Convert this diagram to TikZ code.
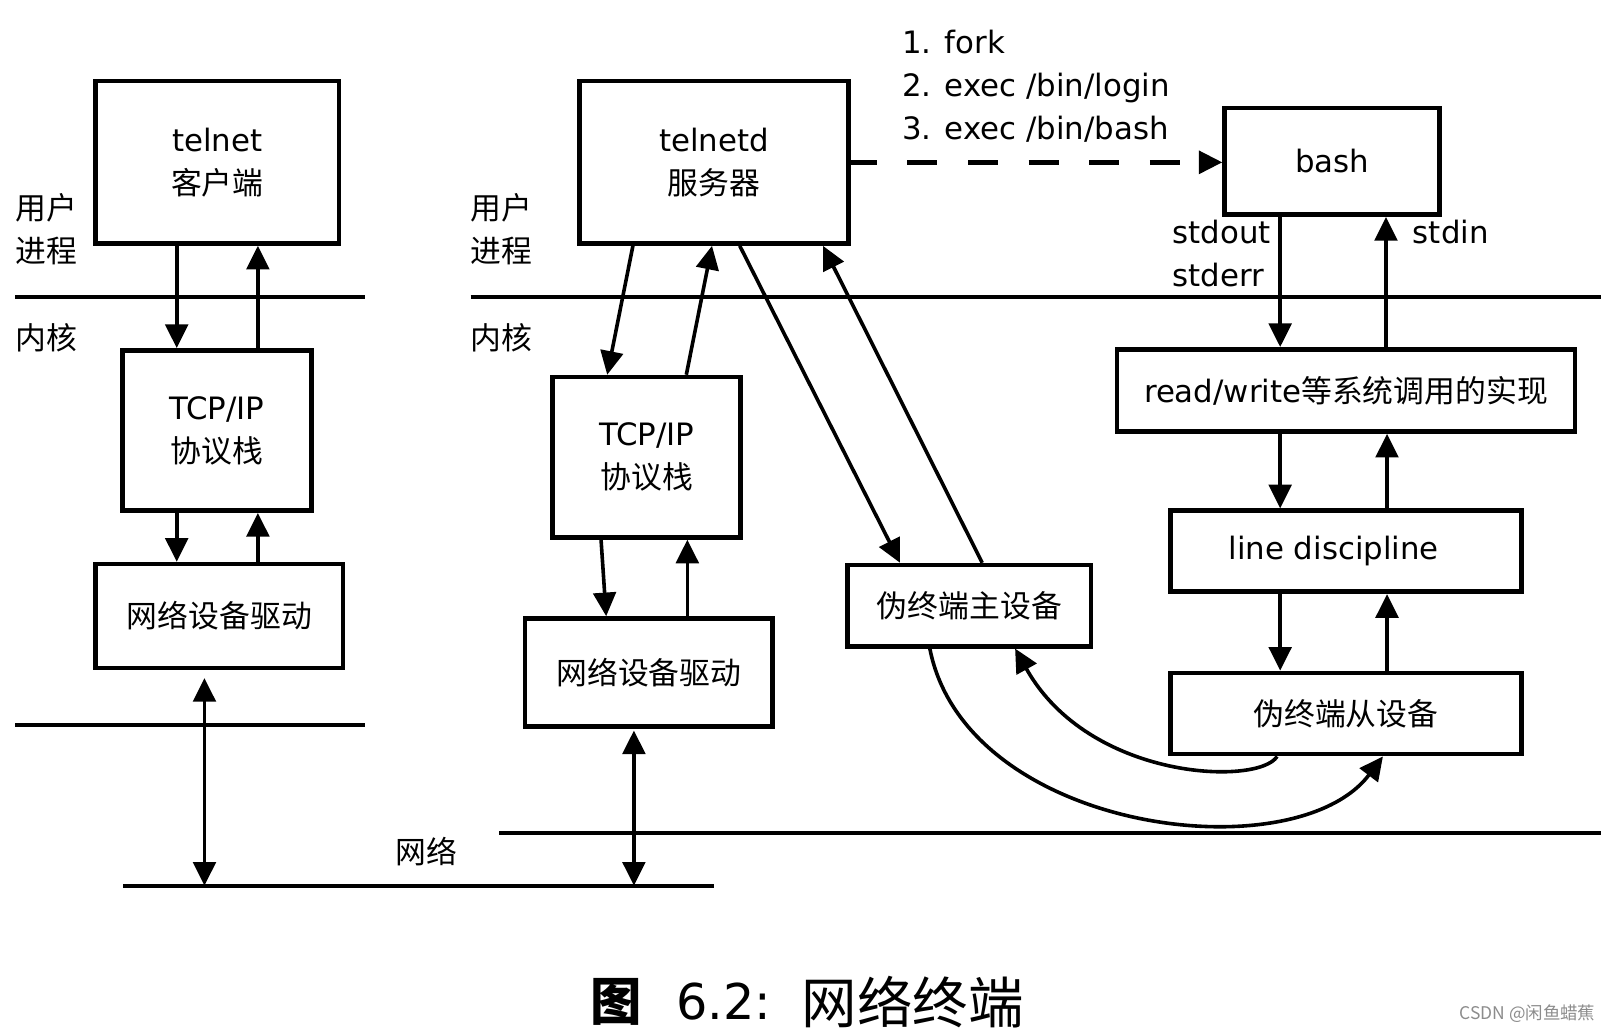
\documentclass[tikz,border=0pt]{standalone}
\usepackage{fontspec}
\setmainfont{DejaVu Sans}
\newfontfamily\cjk{Noto Sans CJK SC}
\usetikzlibrary{arrows.meta,calc}
\begin{document}
\begin{tikzpicture}[x=1pt,y=-1pt,
  box/.style={draw,line width=4.5pt,rectangle,inner sep=0pt,align=center,font=\fontsize{30}{42}\selectfont},
  lbl/.style={inner sep=0pt,font=\fontsize{30}{42}\selectfont},
  arr/.style={line width=3.5pt,-{Triangle[length=23pt,width=22pt]}},
  darr/.style={line width=3.5pt,{Triangle[length=23pt,width=22pt]}-{Triangle[length=23pt,width=22pt]}},
  sepline/.style={line width=4pt},
  dashline/.style={line width=4.5pt,dash pattern=on 29pt off 30pt,dash phase=4pt}]
\useasboundingbox (0,0) rectangle (1568,1005);

% ---------- separator lines ----------
\draw[sepline] (15,289) -- (355,289);
\draw[sepline] (458,289) -- (1558,289);
\draw[sepline] (15,706) -- (355,706);
\draw[sepline] (486,811) -- (1558,811);
\draw[sepline] (120,862) -- (695,862);

% ---------- side labels ----------
\node[lbl,anchor=west] (u1) at (15,202) {\cjk 用户};
\node[lbl,anchor=west] (p1) at (15,244) {\cjk 进程};
\node[lbl,anchor=west] (k1) at (15,329) {\cjk 内核};
\node[lbl,anchor=west] (u2) at (458,202) {\cjk 用户};
\node[lbl,anchor=west] (p2) at (458,244) {\cjk 进程};
\node[lbl,anchor=west] (k2) at (458,329) {\cjk 内核};
\node[lbl] (net) at (415,829) {\cjk 网络};

% ---------- boxes ----------
\node[box,minimum width=237pt,minimum height=158pt] (telnet) at (211.5,158) {telnet\\{\cjk 客户端}};
\node[box,minimum width=184pt,minimum height=156pt] (tcpL) at (211,419) {TCP/IP\\{\cjk 协议栈}};
\node[box,minimum width=241pt,minimum height=101pt] (netL) at (213.5,599.5) {\cjk 网络设备驱动};

\node[box,minimum width=262pt,minimum height=158pt] (telnetd) at (695,158) {telnetd\\{\cjk 服务器}};
\node[box,minimum width=183pt,minimum height=156pt] (tcpM) at (629.5,445) {TCP/IP\\{\cjk 协议栈}};
\node[box,minimum width=241pt,minimum height=105pt] (netM) at (631.5,654.5) {\cjk 网络设备驱动};

\node[box,minimum width=209pt,minimum height=104pt] (bash) at (1296.5,157) {bash};
\node[box,minimum width=446pt,minimum height=80pt] (rw) at (1310,380) {read/write{\cjk 等系统调用的实现}};
\node[box,minimum width=342pt,minimum height=79pt] (ld) at (1310,536.5) {line discipline\hspace*{24pt}};
\node[box,minimum width=342pt,minimum height=79pt] (slave) at (1310,694.5) {\cjk 伪终端从设备};
\node[box,minimum width=237pt,minimum height=79pt] (master) at (943.5,589.5) {\cjk 伪终端主设备};

% ---------- text labels ----------
\node[lbl,anchor=west,align=left] (steps) at (878,84) {1. fork\\2. exec /bin/login\\3. exec /bin/bash};
\node[lbl,anchor=west,align=left] (stdout) at (1141,246.5) {stdout\\stderr};
\node[lbl,anchor=west] (stdin) at (1375,225.5) {stdin};

% ---------- left column arrows ----------
\draw[arr] (telnet.south -| 172,0) -- (tcpL.north -| 172,0);
\draw[arr] (tcpL.north -| 251,0) -- (telnet.south -| 251,0);
\draw[arr] (tcpL.south -| 172,0) -- (netL.north -| 172,0);
\draw[arr] (netL.north -| 251,0) -- (tcpL.south -| 251,0);
\coordinate (busL1) at (199,660);
\coordinate (busL2) at (199,862);
\draw[darr] (busL1) -- (busL2);

% ---------- middle column arrows ----------
\draw[arr] (telnetd.south -| 616,0) -- (tcpM.north -| 591,0);
\draw[arr] (tcpM.north -| 668,0) -- (telnetd.south -| 693,0);
\draw[arr] (tcpM.south -| 585,0) -- (netM.north -| 590,0);
\draw[arr] (netM.north -| 669,0) -- (tcpM.south -| 669,0);
\coordinate (busM1) at (617,711);
\coordinate (busM2) at (617,862);
\draw[darr] (busM1) -- (busM2);
\draw[arr] (telnetd.south -| 720,0) -- (master.north -| 876,0);
\draw[arr] (master.north -| 956,0) -- (telnetd.south -| 801,0);

% ---------- fork/exec ----------
\draw[arr,dashline] (telnetd.east) -- (telnetd.east -| bash.west);

% ---------- right column arrows ----------
\draw[arr] (bash.south -| 1246,0) -- (rw.north -| 1246,0);
\draw[arr] (rw.north -| 1349,0) -- (bash.south -| 1349,0);
\draw[arr] (rw.south -| 1246,0) -- (ld.north -| 1246,0);
\draw[arr] (ld.north -| 1350,0) -- (rw.south -| 1350,0);
\draw[arr] (ld.south -| 1246,0) -- (slave.north -| 1246,0);
\draw[arr] (slave.north -| 1350,0) -- (ld.south -| 1350,0);

% ---------- pty curves ----------
\draw[arr] (slave.south -| 1243,0) .. controls (1225,765) and (1060,760) .. (master.south -| 988,0);
\draw[arr] (master.south -| 905,0) .. controls (940,810) and (1260,850) .. (slave.south -| 1346,0);

% ---------- caption ----------
\node[inner sep=0pt,font=\fontsize{50}{50}\selectfont\cjk\bfseries] (fig) at (600,975) {图};
\node[inner sep=0pt,anchor=west,font=\fontsize{48}{48}\selectfont] (num) at (658,975) {6.2:};
\node[inner sep=0pt,anchor=west,font=\fontsize{54}{54}\selectfont\cjk] (title) at (780,975) {网络终端};
\node[inner sep=0pt,anchor=east,text=black!45,font=\fontsize{17}{17}\selectfont\cjk] (wm) at (1553,987) {CSDN @闲鱼蜡蕉};
\end{tikzpicture}
\end{document}
